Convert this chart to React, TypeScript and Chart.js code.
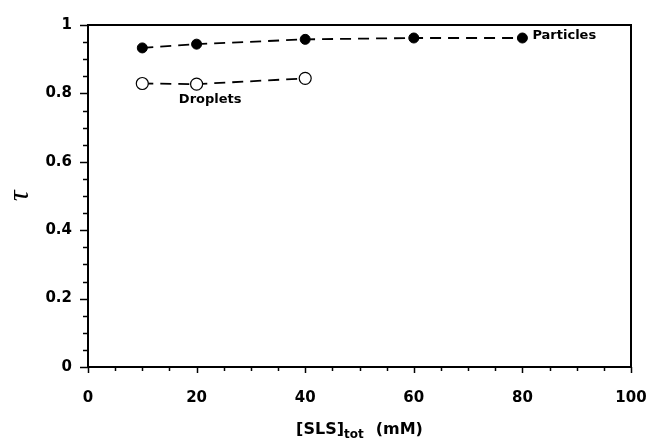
import React, { useEffect, useRef } from "react";
import { Chart, registerables } from "chart.js";

Chart.register(...registerables);

// ---- data ----
const particleConc = [10, 20, 40, 60, 80];
const particleTau = [0.933, 0.944, 0.958, 0.962, 0.962];
const dropletConc = [10, 20, 40];
const dropletTau = [0.829, 0.827, 0.844];
const seriesNames = ["Particles", "Droplets"];
const yTitle = "τ";
const xTitleMain = "[SLS]";
const xTitleSub = "tot";
const xTitleUnit = "(mM)";
const xMajorStep = 20;
const xMinorStep = 5;
const yMajorStep = 0.2;
const yMinorStep = 0.05;

const BOLD = "'DejaVu Sans', sans-serif";

function isMajor(v: number, step: number) {
  const r = v / step;
  return Math.abs(r - Math.round(r)) < 1e-6;
}

const decorPlugin = {
  id: "decor",
  afterDraw(chart: any) {
    const ctx = chart.ctx as CanvasRenderingContext2D;
    const { left, right, top, bottom } = chart.chartArea;
    const xs = chart.scales.x;
    const ys = chart.scales.y;
    ctx.save();
    ctx.strokeStyle = "#000";
    ctx.fillStyle = "#000";
    // tick marks
    ctx.lineWidth = 1.5;
    xs.ticks.forEach((t: any) => {
      const px = Math.round(xs.getPixelForValue(t.value)) + 0.5;
      const len = isMajor(t.value, xMajorStep) ? 6 : 4;
      ctx.beginPath();
      ctx.moveTo(px, bottom);
      ctx.lineTo(px, bottom + len);
      ctx.stroke();
    });
    ys.ticks.forEach((t: any) => {
      const py = Math.round(ys.getPixelForValue(t.value)) + 0.5;
      const len = isMajor(t.value, yMajorStep) ? 8 : 5;
      ctx.beginPath();
      ctx.moveTo(left, py);
      ctx.lineTo(left - len, py);
      ctx.stroke();
    });
    // frame
    ctx.lineWidth = 2;
    ctx.strokeRect(left, top, right - left, bottom - top);

    // series labels
    const pMeta = chart.getDatasetMeta(0);
    const dMeta = chart.getDatasetMeta(1);
    const lastP = pMeta.data[pMeta.data.length - 1];
    ctx.font = `bold 13px ${BOLD}`;
    ctx.textBaseline = "middle";
    ctx.textAlign = "left";
    ctx.fillText(seriesNames[0], lastP.x + 10, lastP.y - 2);
    const dp = dMeta.data[1];
    ctx.textAlign = "center";
    ctx.fillText(seriesNames[1], xs.getPixelForValue(dropletConc[1] + 2.5), dp.y + 15);

    // x title with subscript
    ctx.textBaseline = "alphabetic";
    ctx.textAlign = "left";
    const fMain = `bold 16px ${BOLD}`;
    const fSub = `bold 12px ${BOLD}`;
    ctx.font = fMain;
    const w1 = ctx.measureText(xTitleMain).width;
    const w3 = ctx.measureText(xTitleUnit).width;
    ctx.font = fSub;
    const w2 = ctx.measureText(xTitleSub).width;
    const gap = 12;
    const total = w1 + w2 + gap + w3;
    let x0 = (left + right) / 2 - total / 2;
    const base = 434;
    ctx.font = fMain;
    ctx.fillText(xTitleMain, x0, base);
    x0 += w1;
    ctx.font = fSub;
    ctx.fillText(xTitleSub, x0, base + 4);
    x0 += w2 + gap;
    ctx.font = fMain;
    ctx.fillText(xTitleUnit, x0, base);
    ctx.restore();
  },
};

export default function App() {
  const ref = useRef<HTMLCanvasElement>(null);
  useEffect(() => {
    if (!ref.current) return;
    const chart = new Chart(ref.current, {
      type: "scatter",
      data: {
        datasets: [
          {
            label: seriesNames[0],
            data: particleConc.map((x, i) => ({ x, y: particleTau[i] })),
            showLine: true,
            borderColor: "#000",
            borderWidth: 1.8,
            borderDash: [11, 7],
            tension: 0,
            pointRadius: 5,
            pointBackgroundColor: "#000",
            pointBorderColor: "#000",
            pointBorderWidth: 1,
          },
          {
            label: seriesNames[1],
            data: dropletConc.map((x, i) => ({ x, y: dropletTau[i] })),
            showLine: true,
            borderColor: "#000",
            borderWidth: 1.8,
            borderDash: [11, 7],
            tension: 0,
            pointRadius: 6,
            pointBackgroundColor: "#fff",
            pointBorderColor: "#000",
            pointBorderWidth: 1.2,
          },
        ],
      },
      options: {
        animation: false,
        responsive: false,
        devicePixelRatio: 1,
        layout: { padding: { left: 0, top: 20, right: 0, bottom: 0 } },
        plugins: {
          legend: { display: false },
          tooltip: { enabled: false },
        },
        scales: {
          x: {
            type: "linear",
            min: 0,
            max: 100,
            grid: { display: false, drawTicks: false },
            border: { display: false },
            ticks: {
              stepSize: xMinorStep,
              autoSkip: false,
              maxRotation: 0,
              padding: 22,
              color: "#000",
              font: { family: BOLD, size: 15, weight: "bold" },
              callback: (v: any) => (isMajor(Number(v), xMajorStep) ? String(v) : ""),
            },
            afterFit: (s: any) => {
              s.height = 73;
              s.paddingRight = 18;
              s.paddingLeft = 0;
            },
          },
          y: {
            type: "linear",
            min: 0,
            max: 1,
            grid: { display: false, drawTicks: false },
            border: { display: false },
            ticks: {
              stepSize: yMinorStep,
              autoSkip: false,
              padding: 16,
              color: "#000",
              font: { family: BOLD, size: 15, weight: "bold" },
              callback: (v: any) =>
                isMajor(Number(v), yMajorStep) ? String(Math.round(Number(v) * 10) / 10) : "",
            },
            title: {
              display: true,
              text: yTitle,
              color: "#000",
              font: { family: "'Liberation Serif', serif", style: "italic", size: 30 },
              padding: { top: 2, bottom: 0 },
            },
            afterFit: (s: any) => {
              s.width = 88;
            },
          },
        },
      },
      plugins: [decorPlugin],
    });
    return () => chart.destroy();
  }, []);
  return (
    <div style={{ position: "fixed", left: 0, top: 0, width: 649, height: 440, background: "#fff" }}>
      <canvas ref={ref} width={649} height={440} style={{ display: "block" }} />
    </div>
  );
}
